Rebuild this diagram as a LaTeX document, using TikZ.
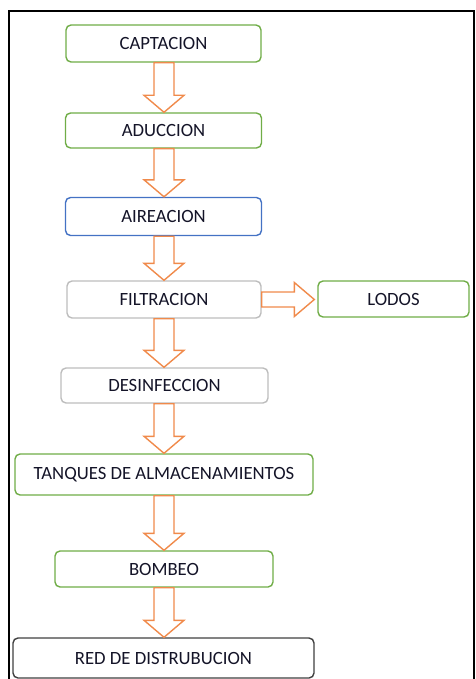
\documentclass[tikz,border=0pt]{standalone}
\usepackage{fontspec}
\setmainfont{Carlito}
\usetikzlibrary{calc}
\definecolor{gbox}{HTML}{70AD47}
\definecolor{bbox}{HTML}{4472C4}
\definecolor{graybox}{HTML}{BDBDBD}
\definecolor{darkbox}{HTML}{404040}
\definecolor{orarr}{HTML}{F08A4B}
\definecolor{txt}{HTML}{141428}
\tikzset{
  stepbox/.style={draw, rounded corners=5pt, line width=1.4pt, fill=white,
    inner sep=0pt, font=\fontsize{18.7}{21}\selectfont, text=txt},
  arr/.style={draw=orarr, line width=1.4pt, fill=white, line join=miter},
}
\newcommand\blkdown[2]{%
  \draw[arr] let \p1=(#1.south), \p2=(#2.north) in
    (164pt-10pt,\y1) -- (164pt+10pt,\y1) -- (164pt+10pt,\y2+17pt) -- (164pt+20pt,\y2+17pt)
    -- (164pt,\y2) -- (164pt-20pt,\y2+17pt) -- (164pt-10pt,\y2+17pt) -- cycle;}
\begin{document}
\begin{tikzpicture}[x=1pt,y=-1pt]
\useasboundingbox (0,0) rectangle (475,679);
\begin{scope}
\clip (0,0) rectangle (475,679);
\draw[line width=2pt] (9,11) rectangle (474,700);
\end{scope}
\node[stepbox, draw=gbox, minimum width=195pt, minimum height=37pt] (cap) at (163.5,43.5) {CAPTACION};
\node[stepbox, draw=gbox, minimum width=196pt, minimum height=35pt] (adu) at (163.5,130.5) {ADUCCION};
\node[stepbox, draw=bbox, minimum width=196pt, minimum height=38pt] (air) at (163.5,216.5) {AIREACION};
\node[stepbox, draw=graybox, minimum width=194pt, minimum height=37pt] (fil) at (164,299.5) {FILTRACION};
\node[stepbox, draw=gbox, minimum width=151pt, minimum height=36pt] (lod) at (393.5,299) {LODOS};
\node[stepbox, draw=graybox, minimum width=207pt, minimum height=35pt] (des) at (164.5,385.5) {DESINFECCION};
\node[stepbox, draw=gbox, minimum width=298pt, minimum height=41pt] (tan) at (164,474.5) {TANQUES DE ALMACENAMIENTOS};
\node[stepbox, draw=gbox, minimum width=218pt, minimum height=36pt] (bom) at (164,569) {BOMBEO};
\node[stepbox, draw=darkbox, minimum width=301pt, minimum height=40pt] (red) at (163.5,658) {RED DE DISTRUBUCION};
\blkdown{cap}{adu}
\blkdown{adu}{air}
\blkdown{air}{fil}
\blkdown{fil}{des}
\blkdown{des}{tan}
\blkdown{tan}{bom}
\blkdown{bom}{red}
\draw[arr] let \p1=(fil.east), \p2=(lod.west) in
  (\x1,\y1-7.5pt) -- (\x2-23pt,\y1-7.5pt) -- (\x2-23pt,\y1-17pt) -- (\x2-3pt,\y1)
  -- (\x2-23pt,\y1+17pt) -- (\x2-23pt,\y1+7.5pt) -- (\x1,\y1+7.5pt) -- cycle;
\end{tikzpicture}
\end{document}
